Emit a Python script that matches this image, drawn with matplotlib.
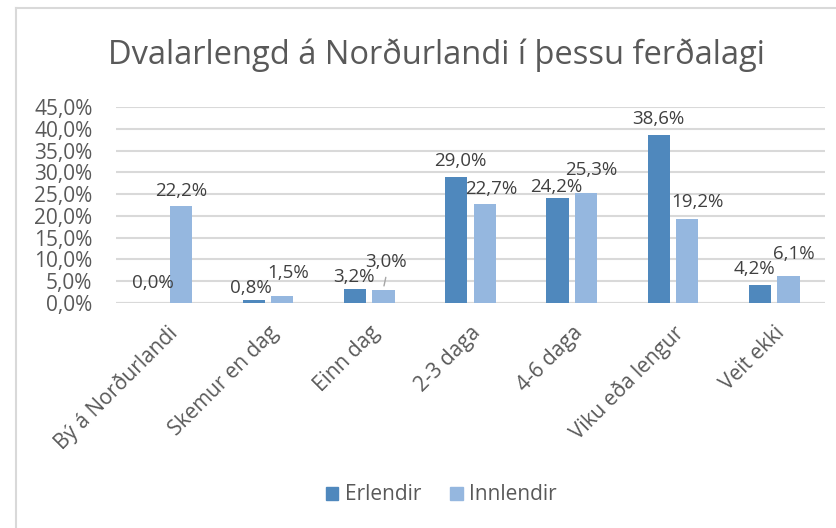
import matplotlib
matplotlib.use('Agg')
import matplotlib.pyplot as plt
from matplotlib.lines import Line2D
from matplotlib.patches import Patch
import numpy as np

# data
categories = ['Bý á Norðurlandi', 'Skemur en dag', 'Einn dag', '2-3 daga',
              '4-6 daga', 'Viku eða lengur', 'Veit ekki']
erlendir = [0.0, 0.8, 3.2, 29.0, 24.2, 38.6, 4.2]
innlendir = [22.2, 1.5, 3.0, 22.7, 25.3, 19.2, 6.1]
series_names = ['Erlendir', 'Innlendir']
title = 'Dvalarlengd á Norðurlandi í þessu ferðalagi'

# label nudges in pixels (Excel shuffles overlapping labels)
erl_label_shift = [(0, 20), (-3, 12), (-1, 12), (4, 16), (-1, 11), (-1, 16), (-6, 16)]
inn_label_shift = [(0, 15), (6, 23), (3, 28), (7, 15), (5, 23), (10, 17), (5, 22)]

dark_blue = '#4F88BD'
light_blue = '#95B7DF'
text_grey = '#595959'
grid_grey = '#D9D9D9'

plt.rcParams['font.family'] = ['Open Sans', 'DejaVu Sans']

fig = plt.figure(figsize=(8.37, 5.28), dpi=100)
ax = fig.add_axes([116 / 837, 1 - 303 / 528, (825 - 116) / 837, (303 - 107) / 528])

x = np.arange(len(categories))
bar_w = 0.22
off = 0.14
bars_e = ax.bar(x - off, erlendir, bar_w, color=dark_blue, label=series_names[0], zorder=3)
bars_i = ax.bar(x + off, innlendir, bar_w, color=light_blue, label=series_names[1], zorder=3)

def pct(v):
    return f'{v:.1f}%'.replace('.', ',')

for bars, vals, shifts in [(bars_e, erlendir, erl_label_shift), (bars_i, innlendir, inn_label_shift)]:
    for b, v, (dx, dy) in zip(bars, vals, shifts):
        ax.annotate(pct(v), (b.get_x() + b.get_width() / 2, v),
                    xytext=(dx, dy), textcoords='offset pixels',
                    ha='center', va='center', fontsize=13.5, color='#404040', zorder=4)

# leader line for the shifted 3,0% label
b = bars_i[2]
ax.annotate('', (b.get_x() + b.get_width() / 2, innlendir[2] + 0.3),
            xytext=(3, 14), textcoords='offset pixels',
            arrowprops=dict(arrowstyle='-', color='#A6A6A6', lw=1), zorder=4)

ax.set_xlim(-0.5, len(categories) - 0.5)
ax.set_ylim(0, 45)
ax.set_yticks(np.arange(0, 46, 5))
ax.set_yticklabels([pct(t) for t in np.arange(0, 46, 5)])
ax.yaxis.grid(True, color=grid_grey, lw=1.5, zorder=0)
ax.set_axisbelow(True)
for s in ax.spines.values():
    s.set_visible(False)
ax.tick_params(axis='both', length=0, colors=text_grey, labelsize=15)
ax.tick_params(axis='y', pad=17)
ax.set_xticks(x)
ax.set_xticklabels(categories, rotation=45, ha='right', va='top', rotation_mode='anchor')
ax.tick_params(axis='x', pad=14)
ax.axhline(0, color=grid_grey, lw=1.5, zorder=2)

fig.text(0.522, 1 - 55 / 528, title, ha='center', va='center', fontsize=23.5, color=text_grey)

handles = [Patch(color=dark_blue), Patch(color=light_blue)]
fig.legend(handles, series_names, loc='center', bbox_to_anchor=(0.527, 1 - 495 / 528),
           ncol=2, frameon=False, fontsize=15, labelcolor=text_grey,
           handlelength=0.6, handleheight=0.6, handletextpad=0.3, columnspacing=1.4)

# chart frame (only the left and top edges are inside the crop)
fig.add_artist(Line2D([16 / 837, 16 / 837], [0, 1 - 8 / 528], color=grid_grey, lw=1.5))
fig.add_artist(Line2D([16 / 837, 1], [1 - 8 / 528, 1 - 8 / 528], color=grid_grey, lw=1.5))

fig.savefig('out.png', dpi=100)
